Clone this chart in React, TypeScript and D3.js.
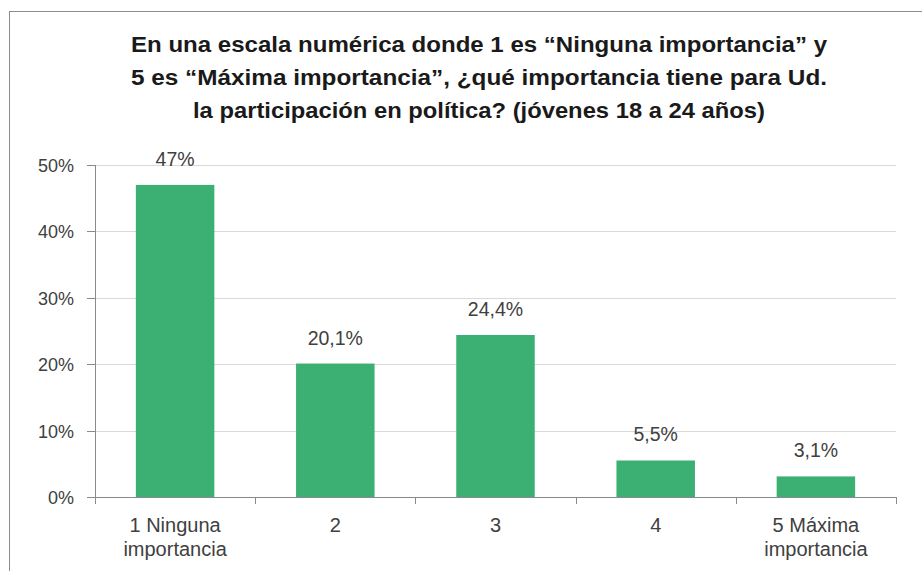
import React, { useEffect, useRef } from "react";
import * as d3 from "d3";

const categories = ["1 Ninguna\nimportancia", "2", "3", "4", "5 Máxima\nimportancia"];
const values = [47, 20.1, 24.4, 5.5, 3.1];
const valueLabels = ["47%", "20,1%", "24,4%", "5,5%", "3,1%"];
const yTicks = [0, 10, 20, 30, 40, 50];
const titleLines = [
  "En una escala numérica donde 1 es “Ninguna importancia”  y",
  "5 es “Máxima importancia”, ¿qué importancia tiene para Ud.",
  "la participación  en política? (jóvenes 18 a 24 años)",
];

const W = 922;
const H = 571;
const FONT = "'Liberation Sans', Arial, sans-serif";

export default function App() {
  const ref = useRef<SVGSVGElement | null>(null);

  useEffect(() => {
    const svg = d3.select(ref.current);
    svg.selectAll("*").remove();

    svg.append("rect").attr("width", W).attr("height", H).attr("fill", "#fff");
    svg
      .append("rect")
      .attr("x", 9.5)
      .attr("y", 11.5)
      .attr("width", W + 20)
      .attr("height", H + 20)
      .attr("fill", "none")
      .attr("stroke", "#8c8c8c")
      .attr("stroke-width", 1);

    const titleWidths = [696, 696, 572];
    const titleY = [52, 85, 118];
    titleLines.forEach((t, i) => {
      svg
        .append("text")
        .attr("x", 479)
        .attr("y", titleY[i])
        .attr("text-anchor", "middle")
        .attr("font-family", FONT)
        .attr("font-weight", "bold")
        .attr("font-size", 21.5)
        .attr("fill", "#1a1a1a")
        .attr("textLength", titleWidths[i])
        .attr("lengthAdjust", "spacingAndGlyphs")
        .text(t);
    });

    const left = 95;
    const right = 896;
    const top = 165;
    const bottom = 497;

    const x = d3.scaleBand<number>().domain(d3.range(categories.length)).range([left, right]).paddingInner(0.51).paddingOuter(0.255);
    const y = d3.scaleLinear().domain([0, 50]).range([bottom, top]);

    const g = svg.append("g");

    // gridlines
    g.selectAll("line.grid")
      .data(yTicks.filter((t) => t > 0))
      .enter()
      .append("line")
      .attr("x1", left)
      .attr("x2", right)
      .attr("y1", (d) => Math.round(y(d)) + 0.5)
      .attr("y2", (d) => Math.round(y(d)) + 0.5)
      .attr("stroke", "#d9d9d9")
      .attr("stroke-width", 1);

    // bars
    g.selectAll("rect.bar")
      .data(values)
      .enter()
      .append("rect")
      .attr("x", (_, i) => x(i)!)
      .attr("width", x.bandwidth())
      .attr("y", (d) => y(d))
      .attr("height", (d) => bottom - y(d))
      .attr("fill", "#3cb073");

    // value labels
    g.selectAll("text.val")
      .data(values)
      .enter()
      .append("text")
      .attr("x", (_, i) => x(i)! + x.bandwidth() / 2)
      .attr("y", (d) => y(d) - 19)
      .attr("text-anchor", "middle")
      .attr("font-family", FONT)
      .attr("font-size", 19.5)
      .attr("fill", "#404040")
      .text((_, i) => valueLabels[i]);

    // y axis
    const axisColor = "#8a8a8a";
    g.append("line")
      .attr("x1", left + 0.5)
      .attr("x2", left + 0.5)
      .attr("y1", top)
      .attr("y2", bottom)
      .attr("stroke", axisColor);
    yTicks.forEach((t) => {
      const yy = Math.round(y(t)) + 0.5;
      g.append("line")
        .attr("x1", left - 8)
        .attr("x2", left)
        .attr("y1", yy)
        .attr("y2", yy)
        .attr("stroke", axisColor);
      g.append("text")
        .attr("x", 74)
        .attr("y", yy + 6.5)
        .attr("text-anchor", "end")
        .attr("font-family", FONT)
        .attr("font-size", 18)
        .attr("fill", "#404040")
        .text(`${t}%`);
    });

    // x axis
    g.append("line")
      .attr("x1", left)
      .attr("x2", right)
      .attr("y1", bottom + 0.5)
      .attr("y2", bottom + 0.5)
      .attr("stroke", axisColor);
    const step = (right - left) / categories.length;
    d3.range(categories.length + 1).forEach((i) => {
      const xx = Math.round(left + i * step) + 0.5;
      g.append("line")
        .attr("x1", xx)
        .attr("x2", xx)
        .attr("y1", bottom)
        .attr("y2", bottom + 7)
        .attr("stroke", axisColor);
    });
    categories.forEach((c, i) => {
      const lines = c.split("\n");
      const cx = x(i)! + x.bandwidth() / 2;
      lines.forEach((ln, j) => {
        g.append("text")
          .attr("x", cx)
          .attr("y", 532 + j * 24)
          .attr("text-anchor", "middle")
          .attr("font-family", FONT)
          .attr("font-size", 20)
          .attr("fill", "#404040")
          .text(ln);
      });
    });
  }, []);

  return (
    <svg
      ref={ref}
      width={W}
      height={H}
      style={{ position: "absolute", left: 0, top: 0, display: "block" }}
    />
  );
}
